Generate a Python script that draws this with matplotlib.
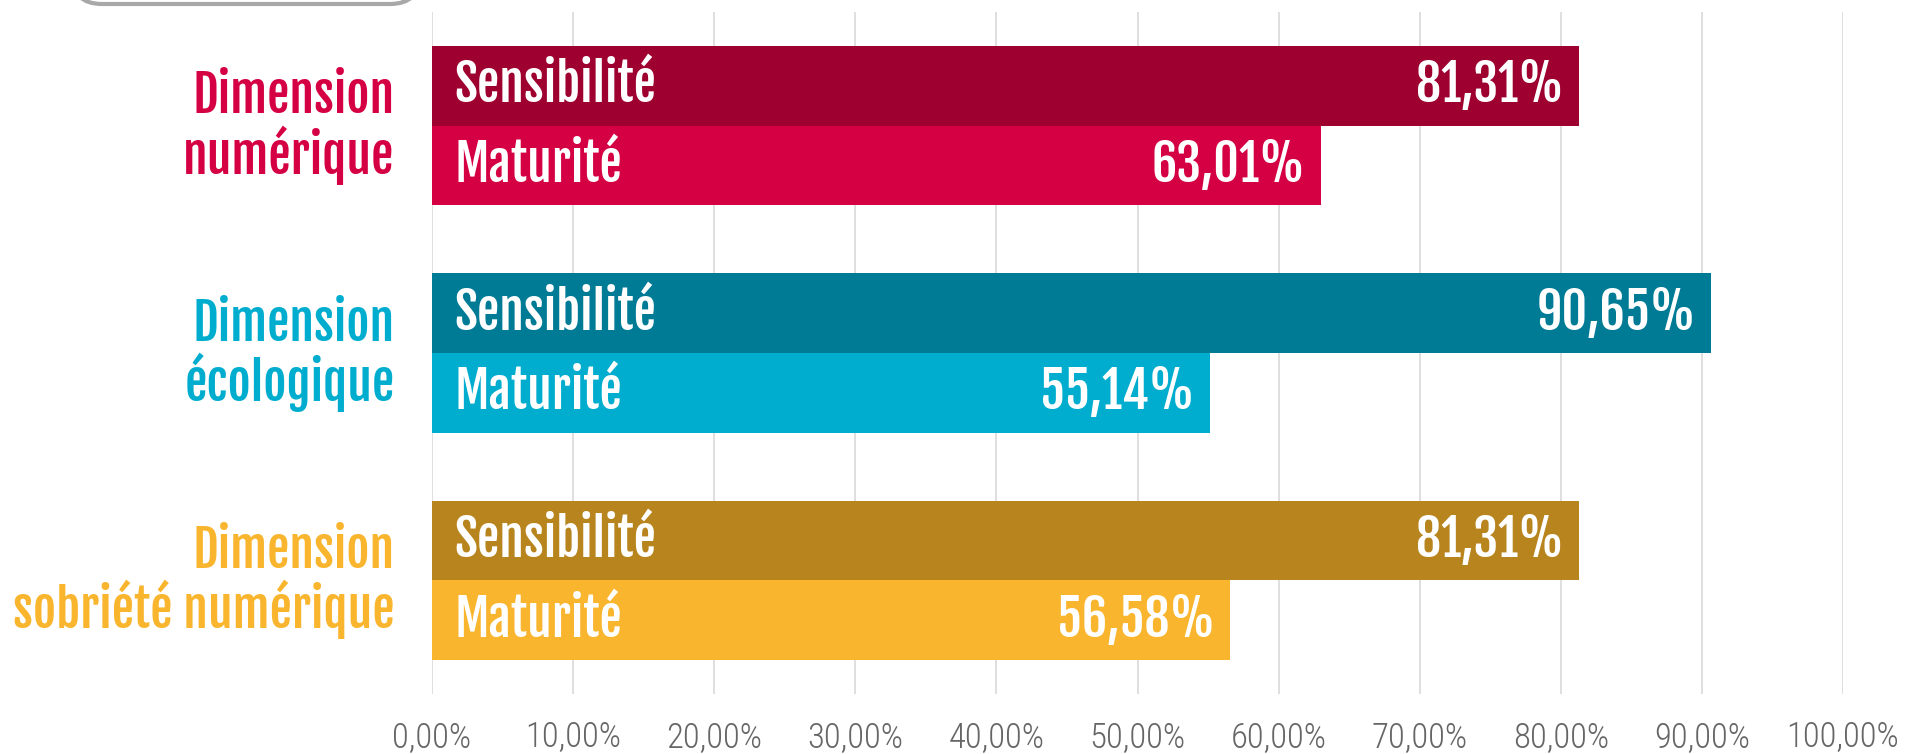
import matplotlib
matplotlib.use('Agg')
import numpy as np
from matplotlib import pyplot as plt
from matplotlib.patches import FancyBboxPatch
from matplotlib.transforms import IdentityTransform

dimensions = ["Dimension\nnumérique", "Dimension\nécologique", "Dimension\nsobriété numérique"]
sensibilite = [81.31, 90.65, 81.31]
maturite = [63.01, 55.14, 56.58]
labels_val_s = ["81,31%", "90,65%", "81,31%"]
labels_val_m = ["63,01%", "55,14%", "56,58%"]
ticks = list(range(0, 101, 10))
tick_labels = ["%d,00%%" % t for t in ticks]

col_dark = ["#9E0030", "#007B96", "#B8841E"]
col_light = ["#D50044", "#00ADCE", "#F9B52D"]

bold_font = ["Fjalla One", "DejaVu Sans"]
tick_font = ["Roboto Condensed", "DejaVu Sans"]

fig = plt.figure(figsize=(19.13, 7.54), dpi=100)
ax = fig.add_axes([432 / 1913, 1 - 694 / 754, (1843 - 432) / 1913, (694 - 12) / 754])

h = 80 / 228
y = np.arange(len(dimensions))
ax.barh(y - h / 2, sensibilite, height=h, color=col_dark, zorder=2)
ax.barh(y + h / 2, maturite, height=h, color=col_light, zorder=2)

ax.set_xlim(0, 100)
ax.set_ylim(2.5, -0.5)
ax.set_xticks(ticks)
ax.set_xticklabels(tick_labels, family=tick_font, fontweight="light", fontsize=25, color="#666666")
ax.tick_params(axis="x", length=0, pad=19)
ax.set_yticks([])
ax.grid(axis="x", color="#D9D9D9", lw=1.2, zorder=0)
for s in ax.spines.values():
    s.set_visible(False)

for i in range(len(dimensions)):
    for yy, val, lab, name in [(y[i] - h / 2, sensibilite[i], labels_val_s[i], "Sensibilité"),
                               (y[i] + h / 2, maturite[i], labels_val_m[i], "Maturité")]:
        ax.annotate(name, (0, yy), xytext=(16, 0), textcoords="offset points",
                    ha="left", va="center", color="white", fontsize=36,
                    family=bold_font, zorder=3)
        ax.annotate(lab, (val, yy), xytext=(-11, 0), textcoords="offset points",
                    ha="right", va="center", color="white", fontsize=36,
                    family=bold_font, zorder=3)
    ax.annotate(dimensions[i], (0, y[i]), xytext=(-27, -1), textcoords="offset points",
                ha="right", va="center", multialignment="right", color=col_light[i],
                fontsize=36, family=bold_font, linespacing=1.02,
                annotation_clip=False)

# cut-off rounded box at the top left
box = FancyBboxPatch((72, 754 - 4), 348, 80, boxstyle="round,pad=0,rounding_size=30",
                     transform=IdentityTransform(), facecolor="white",
                     edgecolor="#A8A8A8", lw=3)
fig.add_artist(box)

fig.savefig("out.png", dpi=100)
